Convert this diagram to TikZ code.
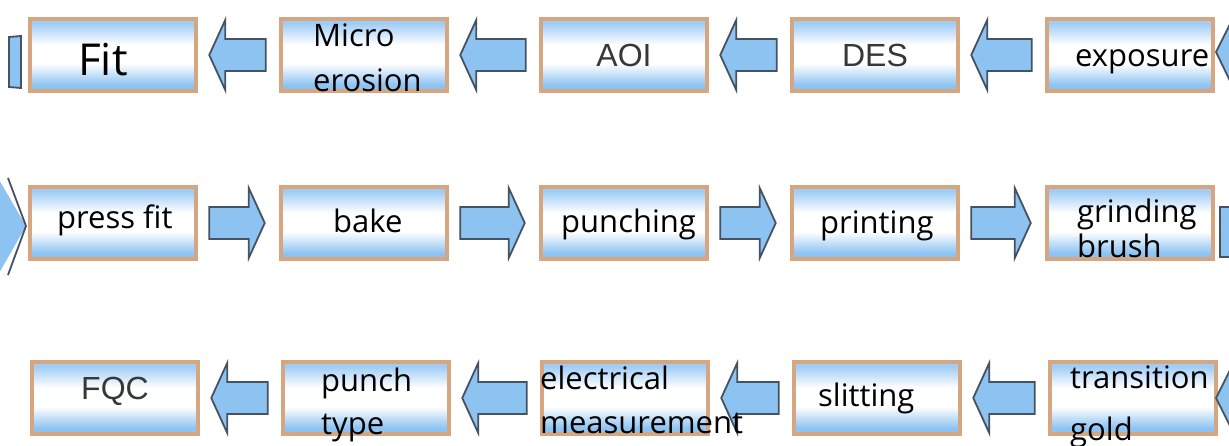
\documentclass[tikz,border=0pt]{standalone}
\usepackage{fontspec}
\setmainfont{Open Sans}
\newfontfamily\arialf{Liberation Sans}
\usetikzlibrary{calc}
\definecolor{bordc}{RGB}{214,166,128}
\definecolor{btop}{RGB}{160,205,245}
\definecolor{bbot}{RGB}{140,195,242}
\definecolor{arrfill}{RGB}{140,195,240}
\definecolor{arrline}{RGB}{70,82,98}
\definecolor{grayt}{RGB}{55,55,55}
\pgfdeclareverticalshading{boxshade}{100bp}{color(0bp)=(bbot); color(29bp)=(bbot); color(44bp)=(white); color(57bp)=(white); color(72bp)=(btop); color(100bp)=(btop)}
\tikzset{
  box/.style={draw=bordc, line width=4.5pt, shading=boxshade, minimum width=166pt, minimum height=72pt, inner sep=0pt},
  lbl/.style={anchor=base west, font=\fontsize{31}{31}\selectfont, inner sep=0pt, text=black},
  albl/.style={anchor=base, font=\arialf\fontsize{32}{32}\selectfont, inner sep=0pt, text=grayt},
  arr/.style={draw=arrline, fill=arrfill, line width=1.8pt, line join=miter}
}
\newcommand\arrL[2]{%
  \draw[arr] let \p1=($(#1.east)+(11,0)$), \p2=($(#2.west)+(-13,0)$) in
   (\x1,\y1) -- (\x1+16pt,\y1+35pt) -- (\x1+16pt,\y1+16pt) -- (\x2,\y1+16pt) -- (\x2,\y1-16pt) -- (\x1+16pt,\y1-16pt) -- (\x1+16pt,\y1-35pt) -- cycle;}
\newcommand\arrR[2]{%
  \draw[arr] let \p1=($(#1.east)+(11,0)$), \p2=($(#2.west)+(-14,0)$) in
   (\x1,\y1+16pt) -- (\x2-16pt,\y1+16pt) -- (\x2-16pt,\y1+35pt) -- (\x2,\y1) -- (\x2-16pt,\y1-35pt) -- (\x2-16pt,\y1-16pt) -- (\x1,\y1-16pt) -- cycle;}
\begin{document}
\begin{tikzpicture}[x=1pt,y=-1pt]
\useasboundingbox (0,0) rectangle (1229,446);
\fill[white] (0,0) rectangle (1229,446);
% row 1
\node[box] (b11) at (113,55) {};
\node[box] (b12) at (364,55) {};
\node[box] (b13) at (624,55) {};
\node[box] (b14) at (875,55) {};
\node[box] (b15) at (1130,55) {};
% row 2
\node[box] (b21) at (113,223) {};
\node[box] (b22) at (364,223) {};
\node[box] (b23) at (624,223) {};
\node[box] (b24) at (875,223) {};
\node[box] (b25) at (1130,223) {};
% row 3
\node[box] (b31) at (115,398) {};
\node[box] (b32) at (366,398) {};
\node[box] (b33) at (625,398) {};
\node[box] (b34) at (877,398) {};
\node[box] (b35) at (1133,398) {};
% arrows
\arrL{b11}{b12}\arrL{b12}{b13}\arrL{b13}{b14}\arrL{b14}{b15}
\arrR{b21}{b22}\arrR{b22}{b23}\arrR{b23}{b24}\arrR{b24}{b25}
\arrL{b31}{b32}\arrL{b32}{b33}\arrL{b33}{b34}\arrL{b34}{b35}
% edge fragments
\draw[arr] (9,37) -- (21,36) -- (21,88) -- (9,87) -- cycle;
\fill[arrfill] (1232,20) -- (1216,52) -- (1232,85) -- cycle;
\draw[arrline, line width=1.8pt] (1232,20) -- (1216,52) -- (1232,85);
\fill[arrfill] (-2,178) -- (26,226) -- (-2,275) -- cycle;
\draw[arrline, line width=1.8pt] (8,178) -- (26,226) -- (8,275);
\draw[arr] (1220,207) rectangle (1235,257);
\fill[arrfill] (1232,366) -- (1216,398) -- (1232,430) -- cycle;
\draw[arrline, line width=1.8pt] (1232,366) -- (1216,398) -- (1232,430);
% labels row 1
\node[lbl, font=\fontsize{44}{44}\selectfont] (t11) at (78,76) {Fit};
\node[lbl] (t12a) at (313,47) {Micro};
\node[lbl] (t12b) at (313,92) {erosion};
\node[albl] (t13) at (624,67) {AOI};
\node[albl] (t14) at (875,67) {DES};
\node[lbl] (t15) at (1075,67) {exposure};
% labels row 2
\node[lbl] (t21) at (57,229) {press fit};
\node[lbl] (t22) at (333,233) {bake};
\node[lbl] (t23) at (561,233) {punching};
\node[lbl] (t24) at (820,234) {printing};
\node[lbl] (t25a) at (1077,223) {grinding};
\node[lbl] (t25b) at (1077,258) {brush};
% labels row 3
\node[albl] (t31) at (115,399) {FQC};
\node[lbl] (t32a) at (321,391) {punch};
\node[lbl] (t32b) at (321,434) {type};
\node[lbl] (t33a) at (540,389) {electrical};
\node[lbl] (t33b) at (540,433) {measurement};
\node[lbl] (t34) at (818,406) {slitting};
\node[lbl] (t35a) at (1070,388) {transition};
\node[lbl] (t35b) at (1070,440) {gold};
\end{tikzpicture}
\end{document}
